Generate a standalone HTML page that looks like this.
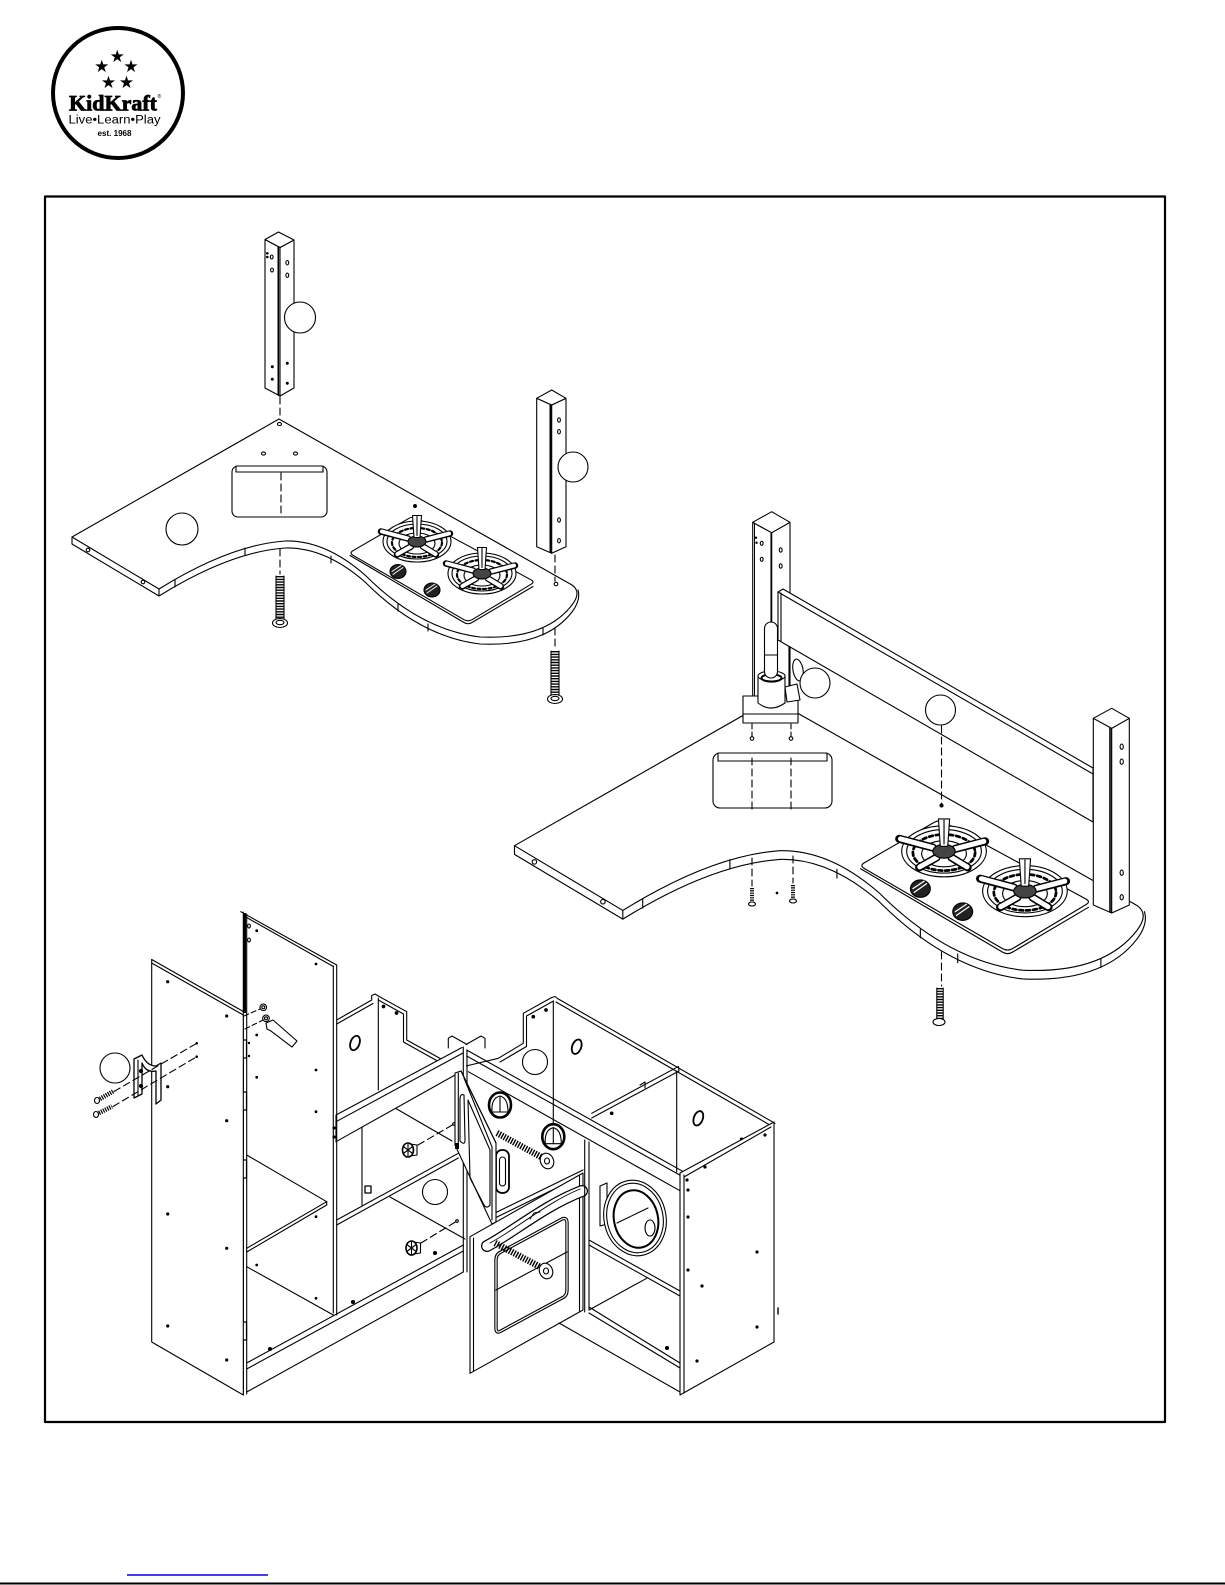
<!DOCTYPE html>
<html><head><meta charset="utf-8"><style>
html,body{margin:0;padding:0;background:#fff;width:1225px;height:1585px;overflow:hidden}
svg{display:block}
</style></head><body>
<svg width="1225" height="1585" viewBox="0 0 1225 1585" xmlns="http://www.w3.org/2000/svg">
<defs>
<g id="burner">
 <ellipse rx="34" ry="20.5" fill="#fff"/>
 <ellipse rx="30" ry="17.5"/>
 <ellipse cy="1" rx="25" ry="14.5" stroke-width="2.2" stroke-dasharray="3 2.5"/>
 <ellipse cy="2" rx="18" ry="10.5"/>
 <g stroke-width="6.5"><line x1="-9" y1="-3" x2="-36" y2="-10"/><line x1="9" y1="-2" x2="33" y2="-8"/><line x1="-6" y1="5" x2="-20" y2="13"/><line x1="6" y1="5" x2="19" y2="13"/></g>
 <g stroke="#fff" stroke-width="4"><line x1="-9" y1="-3" x2="-35" y2="-10"/><line x1="9" y1="-2" x2="32" y2="-8"/><line x1="-6" y1="5" x2="-19.5" y2="12.5"/><line x1="6" y1="5" x2="18.5" y2="12.5"/></g>
 <ellipse rx="9" ry="5.5" fill="#444"/>
 <path d="M-3,-4 L-4.5,-26 L4.5,-26 L3,-4 Z" fill="#fff"/>
 <line x1="0" y1="-25" x2="0" y2="-6"/>
</g>
<g id="knob">
 <ellipse rx="8" ry="7" fill="#222"/>
 <path d="M-5,3 L5,-4 M-6,0 L3,-6" stroke="#fff" stroke-width="1"/>
</g>
<g id="ctr">
 <path fill="#fff" stroke="none" d="M279,419 L72,537 L72,544 L159,596 Q230,552 285,548 Q325,547 365,582 Q420,637 480,644 Q545,647 572,612 Q581,600 578,590 L572,585 Z"/>
 <path d="M279,419 L72,537 L159,589 Q230,545 285,541 Q325,540 365,575 Q420,630 480,637 Q545,640 572,605 Q582,592 572,585 Z"/>
 <path d="M72,537 L72,544 L159,596 Q230,552 285,548 Q325,547 365,582 Q420,637 480,644 Q545,647 572,612 Q581,600 578,590"/>
 <path d="M159,589 L159,596 M245,548 L245,555 M331,556 L331,563 M398,604 L398,611 M428,624 L428,631 M543,628 L543,635 M175,580 L175,587"/>
 <circle cx="88" cy="550" r="1.8"/><circle cx="143" cy="582" r="1.8"/>
 <path fill="#fff" d="M353,550.7 L409,518.3 Q413,516 417,518.2 L531,579.8 Q535,582 531,584.3 L472,619.7 Q468,622 464,619.7 L353,555.3 Q349,553 353,550.7 Z"/>
 <path d="M350,555.5 L464,622.5 Q468,625 472,622.5 L533,586.5"/>
 <use href="#burner" transform="translate(417,541.5)"/>
 <use href="#burner" transform="translate(482,573.5)"/>
 <use href="#knob" transform="translate(398,571.5)"/>
 <use href="#knob" transform="translate(432,590)"/>
</g>
</defs>

<g fill="none" stroke="#000" stroke-width="1.1" stroke-linejoin="round" stroke-linecap="round" font-family="'Liberation Sans', sans-serif">

<!-- LOGO -->
<circle cx="118" cy="93" r="65" stroke-width="4"/>
<g fill="#000" stroke="none" font-family="'DejaVu Sans', sans-serif" font-size="17" text-anchor="middle">
<text x="117.3" y="62">★</text><text x="101.7" y="72">★</text><text x="131" y="72">★</text><text x="108.5" y="88">★</text><text x="126.5" y="88">★</text>
</g>
<text x="69" y="110.5" fill="#000" stroke="#000" stroke-width="0.8" font-family="'Liberation Serif', serif" font-weight="bold" font-size="22" textLength="88" lengthAdjust="spacingAndGlyphs">KidKraft</text>
<text x="157.5" y="98" fill="#000" stroke="none" font-size="5">®</text>
<text x="68.5" y="123.5" fill="#000" stroke="none" font-size="11.5" textLength="92" lengthAdjust="spacingAndGlyphs">Live•Learn•Play</text>
<text x="97.5" y="136" fill="#000" stroke="none" font-size="8" font-weight="bold" textLength="34" lengthAdjust="spacingAndGlyphs">est. 1968</text>

<!-- FRAME -->
<rect x="45" y="196.5" width="1120" height="1225.5" stroke-width="2.2"/>

<!-- ================= VIEW 1 ================= -->
<use href="#ctr"/>
<rect x="232" y="466" width="95" height="51" rx="6" fill="#fff"/>
<line x1="236" y1="472" x2="323" y2="472"/>
<line x1="236" y1="466" x2="236" y2="472"/><line x1="323" y1="466" x2="323" y2="472"/>
<line x1="281" y1="473" x2="281" y2="517" stroke-dasharray="7 4"/>
<circle cx="182" cy="529" r="16" fill="#fff"/>
<ellipse cx="279.5" cy="424" rx="2" ry="1.6"/><ellipse cx="263.5" cy="453.5" rx="2" ry="1.6"/><ellipse cx="295.5" cy="453.5" rx="2" ry="1.6"/>
<circle cx="415" cy="506" r="1.4" fill="#000"/>
<circle cx="556" cy="584" r="1.8"/>

<!-- post 1 -->
<polygon points="265,239.5 280,247.5 280,396 265,388" fill="#fff"/>
<polygon points="280,247.5 294,240 294,388 280,396" fill="#fff"/>
<polygon points="265,239.5 278.5,232 294,240 280,247.5" fill="#fff"/>
<line x1="278.3" y1="247" x2="278.3" y2="395" stroke-width="1.6"/>
<g fill="#000" stroke="none"><circle cx="267.3" cy="253.3" r="1.3"/><circle cx="267.3" cy="257" r="1.3"/><circle cx="272.3" cy="366.7" r="1.5"/><circle cx="272.3" cy="379.3" r="1.5"/><circle cx="287.3" cy="363.3" r="1.5"/><circle cx="287.3" cy="383.3" r="1.5"/></g>
<ellipse cx="271.7" cy="257" rx="1.4" ry="2"/><ellipse cx="272" cy="270" rx="1.4" ry="2"/><ellipse cx="287.3" cy="262.7" rx="1.4" ry="2.2"/><ellipse cx="287.3" cy="275.3" rx="1.4" ry="2.2"/>
<line x1="280" y1="397" x2="280" y2="417" stroke-dasharray="7 4"/>
<circle cx="300" cy="317.5" r="15.5" fill="#fff"/>
<line x1="280" y1="549" x2="280" y2="574" stroke-dasharray="7 4"/>
<line x1="280" y1="576" x2="280" y2="620" stroke-width="8" stroke-dasharray="1.4 1.3" stroke-linecap="butt"/>
<path d="M276,576 L276,620 M284,576 L284,620"/>
<ellipse cx="280" cy="623" rx="7.5" ry="4.5" fill="#fff"/><ellipse cx="280" cy="622.5" rx="4" ry="2.2"/>

<!-- post 2 -->
<polygon points="536.7,398.3 551.7,405 551.7,553.3 536.7,546.7" fill="#fff"/>
<polygon points="551.7,405 566,398.3 566,546.7 551.7,553.3" fill="#fff"/>
<polygon points="536.7,398.3 551.7,390 566,398.3 551.7,405" fill="#fff"/>
<line x1="550.3" y1="405" x2="550.3" y2="552" stroke-width="1.6"/>
<ellipse cx="559" cy="420" rx="1.4" ry="2.2"/><ellipse cx="559" cy="431.7" rx="1.4" ry="2.2"/><ellipse cx="559" cy="520" rx="1.4" ry="2.2"/><ellipse cx="559" cy="540.7" rx="1.4" ry="2.2"/>
<circle cx="573" cy="467" r="15" fill="#fff"/>
<line x1="555" y1="555" x2="555" y2="581" stroke-dasharray="7 4"/>
<line x1="555" y1="628" x2="555" y2="650" stroke-dasharray="7 4"/>
<line x1="555" y1="651" x2="555" y2="696" stroke-width="8" stroke-dasharray="1.4 1.3" stroke-linecap="butt"/>
<path d="M551,651 L551,696 M559,651 L559,696"/>
<ellipse cx="555" cy="699" rx="7.5" ry="4.5" fill="#fff"/><ellipse cx="555" cy="698.5" rx="4" ry="2.2"/>

<!-- ================= VIEW 2 ================= -->
<g transform="translate(514.5,845.7) scale(1.245) translate(-72,-537)" stroke-width="0.9">
 <use href="#ctr"/>
</g>
<rect x="713" y="753" width="119" height="55" rx="7" fill="#fff"/>
<line x1="718" y1="761" x2="827" y2="761"/>
<line x1="718" y1="753" x2="718" y2="761"/><line x1="827" y1="753" x2="827" y2="761"/>
<line x1="752" y1="758" x2="752" y2="810" stroke-dasharray="7 4"/>
<line x1="791" y1="758" x2="791" y2="810" stroke-dasharray="7 4"/>
<line x1="752" y1="858" x2="752" y2="886" stroke-dasharray="7 4"/>
<line x1="793" y1="856" x2="793" y2="883" stroke-dasharray="7 4"/>
<line x1="752" y1="888" x2="752" y2="902" stroke-width="4" stroke-dasharray="1.2 1.1" stroke-linecap="butt"/>
<ellipse cx="752" cy="904" rx="3.5" ry="2" fill="#fff"/>
<line x1="793" y1="885" x2="793" y2="899" stroke-width="4" stroke-dasharray="1.2 1.1" stroke-linecap="butt"/>
<ellipse cx="793" cy="901" rx="3.5" ry="2" fill="#fff"/>
<circle cx="777" cy="893" r="0.8" fill="#000"/>
<line x1="941.5" y1="952" x2="941.5" y2="986" stroke-dasharray="7 4"/>
<line x1="940" y1="988" x2="940" y2="1019" stroke-width="6.5" stroke-dasharray="1.4 1.3" stroke-linecap="butt"/>
<path d="M936.8,988 L936.8,1019 M943.2,988 L943.2,1019"/>
<ellipse cx="939" cy="1022" rx="6" ry="3.5" fill="#fff"/>

<!-- post 3 -->
<polygon points="752.7,522.3 771.7,532.7 771.7,700 752.7,700" fill="#fff"/>
<polygon points="771.7,532.7 790,522.3 790,700 771.7,700" fill="#fff"/>
<polygon points="752.7,522.3 771.7,511.7 790,522.3 771.7,532.7" fill="#fff"/>
<line x1="754.5" y1="523" x2="754.5" y2="698" stroke-width="1"/>
<g fill="#000" stroke="none"><circle cx="756" cy="537.7" r="1.2"/><circle cx="756.5" cy="542.7" r="1.2"/></g>
<ellipse cx="761.7" cy="543.3" rx="1.4" ry="2"/><ellipse cx="761.7" cy="559.3" rx="1.4" ry="2"/><ellipse cx="780.7" cy="550" rx="1.4" ry="2.2"/><ellipse cx="780.7" cy="566" rx="1.4" ry="2.2"/>

<!-- backsplash -->
<polygon points="778,592 783,589 1093,768 1093,822 778,640" fill="#fff"/>
<line x1="778" y1="592" x2="1093" y2="774"/>
<line x1="781" y1="593" x2="781" y2="641"/>
<line x1="941.5" y1="726" x2="941.5" y2="804" stroke-dasharray="7 4"/>
<circle cx="941.5" cy="805.5" r="1.5" fill="#000"/>
<circle cx="940.5" cy="710" r="15" fill="#fff"/>
<line x1="789" y1="647" x2="789" y2="697"/>

<!-- faucet -->
<polygon points="743,696 798,696 798,714 743,714" fill="#fff"/>
<rect x="743" y="714" width="55" height="9" fill="#fff"/>
<path d="M758,676 L758,703 Q771,713 785,703 L785,676" fill="#fff"/>
<ellipse cx="771.5" cy="676" rx="13.5" ry="5" fill="#fff"/>
<ellipse cx="771.5" cy="678" rx="10" ry="3.6" stroke-width="2"/>
<rect x="764.5" y="622" width="13" height="56" rx="6.5" fill="#fff"/>
<line x1="764.5" y1="655" x2="777.5" y2="655"/>
<line x1="771" y1="533" x2="771" y2="622"/>
<path d="M785,687 L797,684 L800,700 L787,702 Z" fill="#fff"/>
<ellipse cx="798" cy="670" rx="5" ry="11" fill="#fff" transform="rotate(-10 798 670)"/>
<circle cx="815" cy="683" r="15" fill="#fff"/>
<line x1="752" y1="724" x2="752" y2="736" stroke-dasharray="5 3"/>
<line x1="791" y1="724" x2="791" y2="736" stroke-dasharray="5 3"/>
<circle cx="752" cy="738.5" r="1.8"/><circle cx="791" cy="738.5" r="1.8"/>

<!-- post 4 -->
<polygon points="1093.3,718.3 1111.7,728.3 1111.7,913 1093.3,905" fill="#fff"/>
<polygon points="1111.7,728.3 1129.3,718.3 1129.3,905 1111.7,913" fill="#fff"/>
<polygon points="1093.3,718.3 1111.7,708.3 1129.3,718.3 1111.7,728.3" fill="#fff"/>
<line x1="1110" y1="728" x2="1110" y2="912" stroke-width="1.6"/>
<ellipse cx="1121.7" cy="746.7" rx="1.6" ry="2.6"/><ellipse cx="1121.7" cy="761.7" rx="1.6" ry="2.6"/><ellipse cx="1121.7" cy="872.7" rx="1.6" ry="2.6"/><ellipse cx="1121.7" cy="897.3" rx="1.6" ry="2.6"/>

<!-- ================= VIEW 3 ================= -->
<!-- left back panel with notch -->
<path d="M336.7,1020 L371.7,1000 L371.7,995.5 L375,994 L378.3,996 L406.7,1011.7 L406.7,1040 L452,1065"/>
<path d="M336.7,1024 L373,1003.5 M378.3,1000 L403.5,1014 L403.5,1042 L450,1068"/>
<line x1="378.3" y1="998" x2="378.3" y2="1090"/>
<ellipse cx="355" cy="1043" rx="4.5" ry="7.5" stroke-width="1.8" transform="rotate(20 355 1043)"/>
<circle cx="383.5" cy="1006.5" r="1.3" fill="#000"/><circle cx="396.5" cy="1013" r="1.3" fill="#000"/>
<line x1="395" y1="1108" x2="452" y2="1141"/>
<line x1="362" y1="1127" x2="362" y2="1205"/>
<line x1="390" y1="1197" x2="465" y2="1239"/>
<rect x="365" y="1186" width="6" height="7" fill="#fff" stroke-width="1.3"/>

<!-- right back panel with notch -->
<path d="M466,1066 L498.3,1058.3 L523.3,1043.3 L523.3,1013.3 L551.7,997.5 L555,996.5 L557.5,998.5 L775,1123.3"/>
<path d="M500,1062 L526.5,1046.5 L526.5,1016 L553.5,1001 M556,1002 L772.5,1126.5"/>
<line x1="553.3" y1="1001" x2="553.3" y2="1138"/>
<ellipse cx="576.7" cy="1046.7" rx="4.5" ry="7.5" stroke-width="1.8" transform="rotate(20 576.7 1046.7)"/>
<circle cx="533.3" cy="1016.7" r="1.3" fill="#000"/><circle cx="546" cy="1010" r="1.3" fill="#000"/>
<!-- internal divider -->
<path d="M591.7,1113.3 L675,1068.3 L678.5,1066.5 L679,1071 L591.7,1118"/>
<line x1="676.7" y1="1071" x2="676.7" y2="1172"/>
<ellipse cx="698.3" cy="1118.3" rx="4.5" ry="7.5" stroke-width="1.8" transform="rotate(20 698.3 1118.3)"/>
<circle cx="611.7" cy="1113.3" r="1.3" fill="#000"/><circle cx="741.7" cy="1139.3" r="1.3" fill="#000"/>
<path d="M640,1085 L645,1082 L645,1088"/>

<!-- left rail -->
<polygon points="336,1115 460,1048 466,1051 466,1071 453,1075 336,1142" fill="#fff" stroke="none"/>
<line x1="336" y1="1115" x2="462" y2="1047.5"/>
<line x1="336" y1="1121.7" x2="463" y2="1053"/>
<line x1="336" y1="1141.7" x2="455" y2="1075"/>
<line x1="336" y1="1115" x2="336" y2="1142"/>
<!-- corner top cross -->
<path d="M448.3,1048 L448.3,1038.3 L452,1036 L467,1044.5 M485,1048 L485,1038.3 L481,1036 L466,1044.5"/>
<!-- right rail -->
<line x1="466.7" y1="1050" x2="683.3" y2="1171.7"/>
<line x1="466.7" y1="1056" x2="683.3" y2="1177"/>
<line x1="468.3" y1="1071.7" x2="681.7" y2="1191.7"/>
<!-- corner stile -->
<line x1="463.3" y1="1047" x2="463.3" y2="1272"/>
<line x1="467" y1="1050" x2="467" y2="1272"/>

<!-- lower left compartment -->
<line x1="336.7" y1="1220" x2="458.3" y2="1153.3"/>
<line x1="336.7" y1="1225" x2="458.3" y2="1158"/>
<circle cx="435" cy="1253" r="1.5" fill="#000"/><circle cx="353" cy="1302" r="1.5" fill="#000"/><circle cx="270" cy="1349" r="1.5" fill="#000"/>
<!-- cams -->
<ellipse cx="408" cy="1150" rx="5.5" ry="7" fill="#fff" stroke-width="1.6"/><path d="M404,1147 L412,1153 M404,1153 L412,1147 M408,1144 L408,1156"/>
<path d="M410,1144 L417,1145 L417,1155 L410,1156"/>
<ellipse cx="411.5" cy="1248" rx="5.5" ry="7" fill="#fff" stroke-width="1.6"/><path d="M407.5,1245 L415.5,1251 M407.5,1251 L415.5,1245 M411.5,1242 L411.5,1254"/>
<path d="M413.5,1242 L420.5,1243 L420.5,1253 L413.5,1254"/>
<line x1="418" y1="1145" x2="454" y2="1124" stroke-dasharray="7 4"/>
<line x1="421" y1="1243" x2="457" y2="1221" stroke-dasharray="7 4"/>
<circle cx="454" cy="1124" r="1.3"/><circle cx="457" cy="1221" r="1.3"/>

<!-- tall side panel -->
<line x1="240.7" y1="911.7" x2="336.7" y2="965"/>
<line x1="244" y1="916" x2="333.3" y2="966.5"/>
<rect x="243.3" y="913" width="2.8" height="100" fill="#000" stroke="none"/>
<line x1="243.3" y1="912" x2="243.3" y2="1395"/>
<line x1="246.7" y1="914" x2="246.7" y2="1394"/>
<line x1="333.3" y1="966" x2="333.3" y2="1313"/>
<line x1="336.7" y1="965" x2="336.7" y2="1315"/>
<!-- shelves -->
<line x1="246.7" y1="1155" x2="326.7" y2="1201.7"/>
<line x1="326.7" y1="1201.7" x2="326.7" y2="1205"/>
<line x1="246.7" y1="1248.3" x2="326.7" y2="1201.7"/>
<line x1="246.7" y1="1252" x2="326.7" y2="1205"/>
<line x1="246.7" y1="1266.7" x2="333.3" y2="1315"/>
<line x1="246.7" y1="1363" x2="463.3" y2="1245"/>
<line x1="246.7" y1="1369" x2="463.3" y2="1251"/>
<line x1="246.7" y1="1392" x2="463.3" y2="1272"/>
<g fill="#000" stroke="none">
<circle cx="256.7" cy="930.7" r="1.4"/><circle cx="316" cy="964" r="1.4"/><circle cx="256.7" cy="1035" r="1.4"/><circle cx="256.7" cy="1077.3" r="1.4"/><circle cx="316" cy="1070" r="1.4"/><circle cx="316" cy="1111.7" r="1.4"/><circle cx="316" cy="1216.7" r="1.4"/><circle cx="316" cy="1298.3" r="1.4"/><circle cx="256.7" cy="1265" r="1.4"/><circle cx="334" cy="1128" r="1.6"/><circle cx="334" cy="1137" r="1.6"/>
</g>
<ellipse cx="249" cy="926" rx="1.4" ry="2"/><ellipse cx="249" cy="940" rx="1.4" ry="2"/>
<!-- hinges -->
<g fill="#fff" stroke-width="1.2">
<rect x="241.5" y="1040" width="5" height="18"/><rect x="241.5" y="1092" width="5" height="18"/><rect x="241.5" y="1160" width="5" height="18"/><rect x="241.5" y="1322" width="5" height="18"/>
</g>
<g fill="#000" stroke="none">
<circle cx="237.7" cy="1041" r="1.2"/><circle cx="237.7" cy="1053" r="1.2"/><circle cx="237.7" cy="1093" r="1.2"/><circle cx="237.7" cy="1105" r="1.2"/><circle cx="237.7" cy="1161" r="1.2"/><circle cx="237.7" cy="1173" r="1.2"/><circle cx="237.7" cy="1323" r="1.2"/><circle cx="237.7" cy="1335" r="1.2"/>
<circle cx="249" cy="1043" r="1.2"/><circle cx="249" cy="1056" r="1.2"/>
</g>
<!-- hinge hardware -->
<circle cx="263.3" cy="1007.3" r="3.3" fill="#fff"/><circle cx="263.3" cy="1007.3" r="1.5"/>
<circle cx="266" cy="1018.3" r="3.3" fill="#fff"/><circle cx="266" cy="1018.3" r="1.5"/>
<path d="M266,1023 L273,1020 L297,1041 L292,1047 L271,1031 L267,1029 Z" fill="#fff"/>
<line x1="244" y1="1016" x2="260" y2="1009" stroke-dasharray="5 3"/>
<line x1="245" y1="1029" x2="263" y2="1020" stroke-dasharray="5 3"/>

<!-- left door -->
<polygon points="151.7,963 243.3,1015 243.3,1395 151.7,1342" fill="#fff"/>
<line x1="151.7" y1="959.5" x2="243.3" y2="1011.5"/>
<line x1="151.7" y1="959.5" x2="151.7" y2="963"/>
<g fill="#000" stroke="none">
<circle cx="167.7" cy="981.7" r="1.6"/><circle cx="226.7" cy="1016" r="1.6"/><circle cx="167.7" cy="1086.7" r="1.6"/><circle cx="226.7" cy="1120.7" r="1.6"/><circle cx="167.7" cy="1214" r="1.6"/><circle cx="226.7" cy="1248.3" r="1.6"/><circle cx="167.7" cy="1326" r="1.6"/><circle cx="226.7" cy="1360" r="1.6"/>
<circle cx="196.7" cy="1043.3" r="1.3"/><circle cx="196.7" cy="1056.7" r="1.3"/>
</g>
<!-- handle -->
<path d="M134,1059 L142,1055 Q147,1066 156,1066 L161,1063 L161,1100 L156,1104 L156,1071 Q146,1073 142,1063 L142,1094 L134,1098 Z" fill="#fff" stroke-width="1.3"/>
<line x1="138" y1="1060" x2="138" y2="1096"/>
<circle cx="141" cy="1071" r="1.6" fill="#000"/><circle cx="141" cy="1086" r="1.6" fill="#000"/>
<line x1="114" y1="1091.5" x2="196.7" y2="1043.3" stroke-dasharray="7 4"/>
<line x1="113" y1="1106.5" x2="196.7" y2="1056.7" stroke-dasharray="7 4"/>
<line x1="98" y1="1100" x2="113" y2="1091.5" stroke-width="4.5" stroke-dasharray="1.2 1.1" stroke-linecap="butt"/>
<ellipse cx="97" cy="1100.5" rx="2.5" ry="3" fill="#fff"/>
<line x1="97" y1="1114" x2="112" y2="1106.5" stroke-width="4.5" stroke-dasharray="1.2 1.1" stroke-linecap="butt"/>
<ellipse cx="96" cy="1114.5" rx="2.5" ry="3" fill="#fff"/>
<circle cx="115" cy="1068" r="15" fill="#fff"/>

<!-- knob panel -->
<line x1="495" y1="1213" x2="583" y2="1170"/>
<line x1="495" y1="1218" x2="583" y2="1175"/>
<rect x="496" y="1150" width="13" height="43" rx="6" fill="#fff" stroke-width="1.8"/>
<rect x="499.5" y="1157" width="6" height="29" rx="3"/>
<ellipse cx="500" cy="1105" rx="11" ry="12.5" stroke-width="2.6" fill="#fff"/>
<path d="M492,1112 Q491,1098 500,1096 Q508,1098 508,1112 Z" fill="#fff"/>
<line x1="500" y1="1097" x2="500" y2="1112"/>
<ellipse cx="553.3" cy="1136.7" rx="11" ry="12.5" stroke-width="2.6" fill="#fff"/>
<path d="M545.3,1143.7 Q544.3,1129.7 553.3,1127.7 Q561.3,1129.7 561.3,1143.7 Z" fill="#fff"/>
<line x1="553.3" y1="1128.7" x2="553.3" y2="1143.7"/>

<!-- swinging door -->
<polygon points="455,1073 461,1071 496,1143 496,1222 492,1224 455,1145" fill="#fff"/>
<line x1="458.3" y1="1073" x2="458.3" y2="1144"/>
<path d="M461,1071 L496,1143 M464,1078 L492,1147 L492,1220"/>
<path d="M460,1100 Q460,1093 464,1095 L465,1140 Q465,1146 460,1141 Z"/>
<path d="M468,1100 L490,1150 L490,1205 Q486,1210 483,1203 L470,1178 Z"/>
<rect x="455" y="1143" width="4" height="6" fill="#000" stroke="none"/>

<!-- oven door -->
<polygon points="470,1236.7 583,1173 583,1310 470,1373.3" fill="#fff"/>
<line x1="473.5" y1="1238" x2="473.5" y2="1371.5"/>
<line x1="579.5" y1="1176" x2="579.5" y2="1311"/>
<path d="M501,1252 L562,1219 Q567,1217 567,1223 L567,1290 Q567,1296 562,1298 L501,1331 Q496,1334 496,1328 L496,1260 Q496,1254 501,1252 Z" stroke-width="3.4"/>
<path d="M501,1252 L562,1219 Q567,1217 567,1223 L567,1290 Q567,1296 562,1298 L501,1331 Q496,1334 496,1328 L496,1260 Q496,1254 501,1252 Z" stroke="#fff" stroke-width="1.2"/>
<line x1="496" y1="1290" x2="567" y2="1252"/>
<!-- oven handle -->
<path d="M487,1246 C512,1233 545,1205 582,1191" stroke-width="12"/>
<path d="M487,1246 C512,1233 545,1205 582,1191" stroke="#fff" stroke-width="9.5"/>
<path d="M490,1243 C515,1230 546,1203 580,1189" stroke-width="0.9"/>
<path d="M530,1219 L534,1213 L540,1212" stroke-width="1"/>

<!-- long bolts -->
<line x1="497" y1="1133" x2="543" y2="1158" stroke-width="6.5" stroke-dasharray="1.4 1.3" stroke-linecap="butt"/>
<ellipse cx="547" cy="1161" rx="6.5" ry="8" fill="#fff" transform="rotate(-25 547 1161)"/>
<ellipse cx="547" cy="1161" rx="2.5" ry="3"/>
<line x1="495" y1="1243" x2="542" y2="1268" stroke-width="6.5" stroke-dasharray="1.4 1.3" stroke-linecap="butt"/>
<ellipse cx="546" cy="1271" rx="6.5" ry="8" fill="#fff" transform="rotate(-25 546 1271)"/>
<ellipse cx="546" cy="1271" rx="2.5" ry="3"/>

<!-- right divider & compartments -->
<line x1="584.7" y1="1140" x2="584.7" y2="1312"/>
<line x1="589" y1="1142" x2="589" y2="1310"/>
<line x1="589" y1="1240" x2="680" y2="1291"/>
<line x1="589" y1="1245" x2="680" y2="1296"/>
<line x1="589" y1="1307" x2="680" y2="1363"/>
<line x1="589" y1="1313" x2="680" y2="1368"/>
<line x1="559" y1="1323" x2="680" y2="1392"/>
<line x1="589" y1="1310" x2="646.7" y2="1278.3"/>
<circle cx="667" cy="1348" r="1.5" fill="#000"/>
<!-- washer -->
<path d="M600,1186 L607,1183 L607,1224 L600,1226 Z" fill="#fff"/>
<ellipse cx="635" cy="1218" rx="31" ry="38" fill="#fff" transform="rotate(-12 635 1218)"/>
<ellipse cx="635" cy="1218" rx="28" ry="35" transform="rotate(-12 635 1218)"/>
<ellipse cx="636" cy="1219" rx="22" ry="29" stroke-width="2" transform="rotate(-12 636 1219)"/>
<line x1="617" y1="1223" x2="648" y2="1208"/>
<ellipse cx="650" cy="1228" rx="5" ry="8"/>

<!-- right side panel -->
<polygon points="680,1173 774,1122 774,1342 680,1395" fill="#fff"/>
<line x1="684" y1="1175" x2="684" y2="1393"/>
<line x1="684" y1="1177" x2="771" y2="1127"/>
<g fill="#000" stroke="none">
<circle cx="687" cy="1180" r="1.6"/><circle cx="688" cy="1190" r="1.6"/><circle cx="688" cy="1217" r="1.6"/><circle cx="705" cy="1167" r="1.6"/><circle cx="765" cy="1135" r="1.6"/><circle cx="757" cy="1252" r="1.6"/><circle cx="702" cy="1286" r="1.6"/><circle cx="688" cy="1270" r="1.6"/><circle cx="757" cy="1327" r="1.6"/><circle cx="697" cy="1361" r="1.6"/>
</g>
<line x1="778" y1="1308" x2="778" y2="1314" stroke-width="1.4"/>

<!-- labels view 3 -->
<circle cx="535" cy="1062" r="12.5" fill="#fff"/>
<circle cx="435" cy="1192" r="12.5" fill="#fff"/>

</g>

<!-- footer -->
<line x1="127" y1="1575" x2="268" y2="1575" stroke="#0000ee" stroke-width="1.5"/>
<line x1="0" y1="1583.5" x2="1225" y2="1583.5" stroke="#000" stroke-width="2"/>
</svg>
</body></html>
